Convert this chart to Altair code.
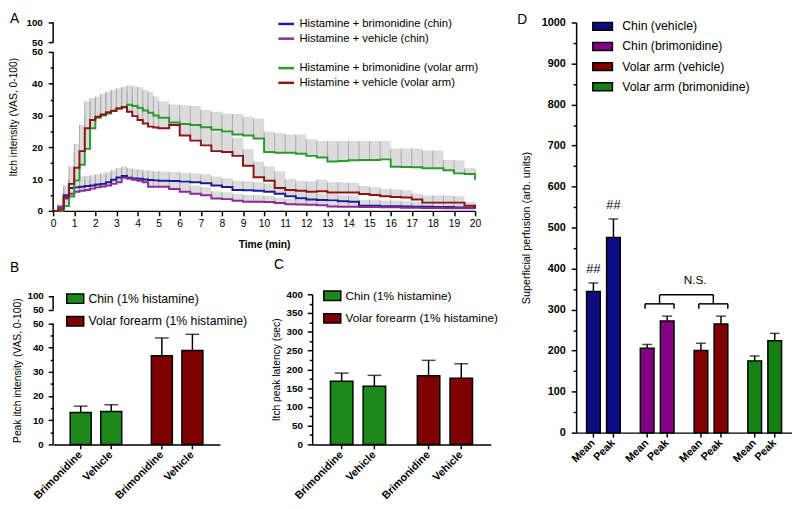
import altair as alt
import pandas as pd

FONT = "Liberation Sans"

# ---------------- Panel A data (time course) ----------------
times = [0, 0.25, 0.5, 0.75, 1.0, 1.25, 1.5, 1.75, 2.0, 2.25, 2.5, 2.75, 3.0, 3.25, 3.5, 3.75, 4.0, 4.25, 4.5, 4.75, 5.0,
         5.5, 6.0, 6.5, 7.0, 7.5, 8.0, 8.5, 9.0, 9.5, 10.0, 10.5, 11.0, 11.5, 12.0, 12.5, 13.0, 13.5, 14.0, 14.5, 15.0,
         15.5, 16.0, 16.5, 17.0, 17.5, 18.0, 18.5, 19.0, 19.5, 20.0]

chin_brim_mean = [0, 1.3, 4.9, 7.2, 7.4, 7.6, 7.8, 8.0, 8.3, 8.5, 9.0, 9.8, 10.5, 11.0, 10.4, 10.2, 10.1, 9.9, 9.7, 9.6, 9.5,
                  9.4, 9.2, 9.0, 8.7, 8.0, 7.5, 6.6, 6.5, 6.3, 6.0, 5.4, 4.6, 4.0, 3.6, 3.4, 3.3, 3.0, 2.9, 1.6, 1.6,
                  1.5, 1.5, 1.4, 1.3, 1.3, 1.2, 1.2, 1.1, 1.0, 0.8]
chin_brim_upper = [0, 2.0, 7.0, 10.0, 10.5, 10.8, 11.0, 11.2, 11.5, 11.8, 12.2, 12.8, 13.5, 14.0, 13.5, 13.2, 13.0, 12.8, 12.6, 12.5, 12.4,
                   12.2, 12.0, 11.8, 11.5, 10.8, 10.3, 9.5, 9.3, 9.0, 8.6, 8.0, 7.0, 6.3, 5.8, 5.5, 5.3, 5.0, 4.8, 3.5, 3.5,
                   3.3, 3.3, 3.0, 2.8, 2.7, 2.6, 2.5, 2.4, 2.2, 2.0]
chin_veh_mean = [0, 1.2, 3.9, 5.4, 6.0, 6.3, 6.6, 7.0, 7.4, 7.7, 8.0, 8.5, 9.0, 10.4, 10.1, 9.8, 9.5, 9.0, 7.6, 7.6, 7.6,
                 6.9, 6.0, 5.4, 4.9, 3.9, 3.7, 3.2, 2.9, 2.9, 2.8, 2.5, 2.1, 2.0, 1.9, 1.8, 1.4, 1.3, 1.3, 1.2, 1.2,
                 1.1, 1.1, 1.0, 1.0, 0.9, 0.9, 0.8, 0.8, 0.8, 0.7]
chin_veh_upper = [0, 2.0, 6.5, 8.5, 9.2, 9.5, 9.8, 10.2, 10.6, 11.0, 11.3, 11.8, 12.3, 13.5, 13.2, 12.9, 12.6, 12.0, 10.5, 10.4, 10.3,
                  9.6, 8.8, 8.0, 7.4, 6.2, 5.9, 5.3, 5.0, 4.9, 4.7, 4.2, 3.7, 3.5, 3.4, 3.2, 2.7, 2.6, 2.5, 2.3, 2.3,
                  2.1, 2.1, 2.0, 1.9, 1.8, 1.7, 1.6, 1.6, 1.5, 1.3]
arm_brim_mean = [0, 0, 1.5, 4.5, 9.6, 14.5, 19.5, 26.0, 29.3, 30.0, 30.6, 31.4, 32.2, 32.5, 33.4, 33.0, 32.4, 31.6, 30.9, 30.0, 29.3,
                 27.8, 27.3, 27.0, 26.3, 25.5, 25.0, 24.0, 23.7, 22.8, 18.5, 18.3, 18.3, 18.0, 17.3, 16.8, 15.5, 15.7, 15.9, 16.0, 16.0,
                 16.2, 13.9, 13.8, 13.7, 13.4, 13.4, 12.8, 11.8, 11.6, 9.8]
arm_brim_upper = [0, 0.5, 4.0, 10.0, 18.0, 24.0, 30.0, 34.0, 35.5, 36.5, 37.4, 38.0, 38.5, 39.0, 39.4, 39.2, 38.9, 38.0, 37.4, 36.0, 34.5,
                  33.2, 33.2, 33.0, 31.7, 31.2, 30.6, 30.5, 29.6, 29.0, 25.0, 24.5, 24.0, 24.0, 22.5, 22.0, 22.0, 22.0, 22.0, 22.0, 22.0,
                  22.0, 19.6, 19.6, 19.6, 19.0, 19.0, 16.0, 15.9, 13.4, 13.0]
arm_veh_mean = [0, 0.5, 4.3, 8.5, 13.6, 18.8, 26.0, 28.6, 29.6, 30.3, 31.0, 31.5, 32.2, 32.7, 31.2, 29.8, 28.6, 27.5, 26.5, 26.2, 26.0,
                27.0, 23.7, 22.1, 20.6, 18.8, 18.5, 17.3, 14.2, 10.6, 9.5, 7.2, 6.6, 6.3, 6.0, 6.2, 5.8, 5.8, 5.8, 5.3, 5.0,
                4.6, 4.4, 4.2, 3.6, 2.6, 2.6, 2.6, 2.6, 1.6, 0.8]
arm_veh_upper = [0, 1.0, 8.0, 14.0, 21.0, 27.0, 34.5, 35.5, 36.0, 36.8, 37.4, 38.0, 38.5, 38.8, 37.5, 36.0, 35.0, 34.0, 33.0, 32.5, 32.0,
                 33.5, 29.5, 28.0, 26.5, 25.0, 24.5, 23.0, 19.5, 15.5, 14.0, 12.5, 10.0, 9.5, 9.3, 9.8, 9.0, 9.0, 8.8, 7.8, 7.5,
                 7.0, 6.8, 6.5, 5.5, 4.8, 4.8, 4.8, 4.6, 2.8, 2.2]

chin_names = ["Histamine + brimonidine (chin)", "Histamine + vehicle (chin)"]
arm_names = ["Histamine + brimonidine (volar arm)", "Histamine + vehicle (volar arm)"]

# ---------------- Panel B / C data ----------------
bc_sites = ["Chin (1% histamine)", "Chin (1% histamine)", "Volar forearm (1% histamine)", "Volar forearm (1% histamine)"]
bc_treat = ["Brimonidine", "Vehicle", "Brimonidine", "Vehicle"]
peak_itch = [13.2, 13.6, 36.6, 38.8]
peak_itch_upper = [15.8, 16.4, 44.0, 45.5]
latency = [168, 155, 183, 176]
latency_upper = [190, 184, 224, 215]

# ---------------- Panel D data ----------------
d_groups = ["Chin (vehicle)", "Chin (brimonidine)", "Volar arm (vehicle)", "Volar arm (brimonidine)"]
d_stats = ["Mean", "Peak"]
d_mean = [344, 206, 200, 175]
d_mean_upper = [365, 215, 218, 187]
d_peak = [476, 272, 265, 224]
d_peak_upper = [521, 284, 284, 242]
d_mean_note = ["##", "", "", ""]
d_peak_note = ["##", "", "", ""]
ns_groups = ["Chin (brimonidine)", "Volar arm (vehicle)"]
ns_levels = {"end": 302, "mid": 314, "top": 336, "text": 371}

# colours
BLUE, PURPLE, GREEN_L, RED_L = "#1c1c96", "#8c2a98", "#2a9a2a", "#8c1414"
GREEN_B, RED_B = "#1b8a1b", "#7f0000"
D_COLORS = ["#0d0d82", "#840084", "#820000", "#168016"]

# ---------------- frames ----------------
rowsA = []
for name, site, ms, us in [(chin_names[0], "chin", chin_brim_mean, chin_brim_upper),
                           (chin_names[1], "chin", chin_veh_mean, chin_veh_upper),
                           (arm_names[0], "arm", arm_brim_mean, arm_brim_upper),
                           (arm_names[1], "arm", arm_veh_mean, arm_veh_upper)]:
    for t, m, u in zip(times, ms, us):
        rowsA.append({"t": t, "series": name, "site": site, "mean": m, "upper": u})
dfA = pd.DataFrame(rowsA)

dfB = pd.DataFrame({"site": bc_sites, "treat": bc_treat, "value": peak_itch, "upper": peak_itch_upper})
dfC = pd.DataFrame({"site": bc_sites, "treat": bc_treat, "value": latency, "upper": latency_upper})

rowsD = []
for g, m, mu, p, pu, mn, pn in zip(d_groups, d_mean, d_mean_upper, d_peak, d_peak_upper, d_mean_note, d_peak_note):
    rowsD.append({"group": g, "stat": "Mean", "value": m, "upper": mu, "note": mn})
    rowsD.append({"group": g, "stat": "Peak", "value": p, "upper": pu, "note": pn})
dfD = pd.DataFrame(rowsD)

broken = pd.DataFrame({"lo": [0, 51], "hi": [50, 100]})

# ---------------- helpers ----------------
def minor_tick(test):
    return {"condition": {"test": test, "value": 3}, "value": 5}

RECT_PATH = "M-1,-0.55L1,-0.55L1,0.55L-1,0.55Z"
RECT_PATH_D = "M-1,-0.4L1,-0.4L1,0.4L-1,0.4Z"
INDEP = dict(x="independent", y="independent", color="independent", xOffset="independent")

# ================= Panel A =================
A_W, A_H = 430, 192
xA = alt.Scale(domain=[0, 20], nice=False, zero=False)
yA = alt.Scale(domain=[0, 50, 51, 100], range=[A_H, A_H - 162, A_H - 172, 0], nice=False, zero=False)
axis_xA = alt.Axis(values=list(range(21)), title="Time (min)", labelFontSize=10.5, labelFontWeight="normal",
                   titleFontSize=10.5, titleFontWeight="bold", tickSize=5, labelPadding=3, titlePadding=11, labelFlush=False)
axis_yA = alt.Axis(values=[0, 5, 10, 15, 20, 25, 30, 35, 40, 45, 50, 51, 100],
                   labelExpr="datum.value == 51 ? '50' : (datum.value % 10 == 0 ? '' + datum.value : '')",
                   tickSize=minor_tick("datum.value % 10 != 0 && datum.value != 51"),
                   domain=False, title="Itch intensity (VAS, 0-100)", labelFontSize=10, labelFontWeight="bold",
                   titleFontSize=10.5, titleFontWeight="normal", labelPadding=6, titlePadding=8)

baseA = alt.Chart(dfA)
encA = dict(x=alt.X("t:Q", scale=xA, axis=axis_xA))
errA_area = baseA.mark_area(interpolate="step-after", color="#dcdcdc").encode(
    **encA, y=alt.Y("mean:Q", scale=yA, axis=axis_yA), y2="upper:Q", detail="series:N")
errA_rule = baseA.mark_rule(color="#ababab", strokeWidth=1).encode(
    **encA, y=alt.Y("mean:Q", scale=yA, axis=axis_yA), y2="upper:Q")

def legA(ly):
    return alt.Legend(orient="none", legendX=228, legendY=ly, title=None, symbolType="stroke", symbolSize=256,
                      symbolStrokeWidth=2.5, labelFontSize=11.5, labelFont=FONT, labelColor="black",
                      rowPadding=-3, labelOffset=4, padding=0, labelLimit=400)

lines_chin = alt.Chart(dfA[dfA.site == "chin"]).mark_line(interpolate="step-after", strokeWidth=2).encode(
    **encA, y=alt.Y("mean:Q", scale=yA, axis=axis_yA),
    color=alt.Color("series:N", scale=alt.Scale(domain=chin_names, range=[BLUE, PURPLE]), legend=legA(-8)))
lines_arm = alt.Chart(dfA[dfA.site == "arm"]).mark_line(interpolate="step-after", strokeWidth=2).encode(
    **encA, y=alt.Y("mean:Q", scale=yA, axis=axis_yA),
    color=alt.Color("series:N", scale=alt.Scale(domain=arm_names, range=[GREEN_L, RED_L]), legend=legA(37)))
yline_A = alt.Chart(broken).mark_rule(color="black", strokeWidth=1.5).encode(
    x=alt.value(0), y=alt.Y("lo:Q", scale=yA, axis=axis_yA), y2="hi:Q")

panelA = alt.layer(errA_area, errA_rule, lines_chin, lines_arm, yline_A).resolve_scale(color="independent").properties(
    width=A_W, height=A_H,
    title=alt.TitleParams("A", anchor="start", frame="group", dx=-44, dy=16, fontSize=14, fontWeight="normal", font=FONT))

# ================= Panels B and C (grouped bars) =================
BC_H = 153
site_order = ["Chin (1% histamine)", "Volar forearm (1% histamine)"]
treat_order = ["Brimonidine", "Vehicle"]
axis_band = alt.Axis(labels=False, ticks=False, title=None, domain=True)


def bar_panel(df, width, yscale, yaxis, letter, letter_dx, leg_x, leg_y, broken_axis, legend_font):
    xs = alt.Scale(domain=site_order, paddingInner=0.365, paddingOuter=0.21)
    xo = alt.Scale(domain=treat_order, paddingInner=0.3125, paddingOuter=0)
    ex = dict(x=alt.X("site:N", scale=xs, axis=axis_band),
              xOffset=alt.XOffset("treat:N", scale=xo))
    base = alt.Chart(df)
    legend = alt.Legend(orient="none", legendX=leg_x, legendY=leg_y, title=None, symbolType=RECT_PATH,
                        symbolSize=300, symbolStrokeColor="black", symbolStrokeWidth=1.5,
                        labelFontSize=legend_font, labelFont=FONT, labelColor="black", rowPadding=5,
                        labelOffset=4, padding=0, labelLimit=400)
    bars = base.mark_bar(stroke="black", strokeWidth=1.5).encode(
        **ex, y=alt.Y("value:Q", scale=yscale, axis=yaxis),
        color=alt.Color("site:N", scale=alt.Scale(domain=site_order, range=[GREEN_B, RED_B]), legend=legend))
    err = base.mark_rule(color="black", strokeWidth=1.5).encode(
        **ex, y=alt.Y("value:Q", scale=yscale, axis=yaxis), y2="upper:Q")
    cap = base.mark_tick(color="black", thickness=1.5, size=14).encode(
        **ex, y=alt.Y("upper:Q", scale=yscale, axis=yaxis))
    ticks = base.mark_rule(color="black", strokeWidth=1.5).encode(
        **ex, y=alt.value(BC_H), y2=alt.value(BC_H + 5))
    labels = base.mark_text(angle=315, align="right", baseline="middle", fontWeight="bold", fontSize=11,
                            font=FONT, color="black").encode(**ex, y=alt.value(BC_H + 9), text="treat:N")
    layers = [bars, err, cap, ticks, labels]
    if broken_axis:
        layers.append(alt.Chart(broken).mark_rule(color="black", strokeWidth=1.5).encode(
            x=alt.value(0), y=alt.Y("lo:Q", scale=yscale, axis=yaxis), y2="hi:Q"))
    return alt.layer(*layers).properties(
        width=width, height=BC_H,
        title=alt.TitleParams(letter, anchor="start", frame="group", dx=letter_dx, dy=-11, fontSize=14,
                              fontWeight="normal", font=FONT))


yB = alt.Scale(domain=[0, 50, 51, 100], range=[BC_H, BC_H - 123.3, BC_H - 137.3, BC_H - 151.3], nice=False, zero=False)
axis_yB = alt.Axis(values=[0, 5, 10, 15, 20, 25, 30, 35, 40, 45, 50, 51, 100],
                   labelExpr="datum.value == 51 ? '50' : (datum.value % 10 == 0 ? '' + datum.value : '')",
                   tickSize=minor_tick("datum.value % 10 != 0 && datum.value != 51"),
                   domain=False, title="Peak itch intensity (VAS, 0-100)", labelFontSize=10, labelFontWeight="bold",
                   titleFontSize=10.5, titleFontWeight="normal", labelPadding=5, titlePadding=5)
panelB = bar_panel(dfB, 170, yB, axis_yB, "B", -44, 13, -5, True, 12.5)

yC = alt.Scale(domain=[0, 400], nice=False, zero=True)
axis_yC = alt.Axis(values=list(range(0, 401, 25)),
                   labelExpr="datum.value % 50 == 0 ? '' + datum.value : ''",
                   tickSize=minor_tick("datum.value % 50 != 0"),
                   title="Itch peak latency (sec)", labelFontSize=10, labelFontWeight="bold",
                   titleFontSize=10.5, titleFontWeight="normal", labelPadding=5, titlePadding=5)
panelC = bar_panel(dfC, 182, yC, axis_yC, "C", -39, 11, -8, False, 12)

# ================= Panel D =================
D_W, D_H = 220, 418
xD = alt.Scale(domain=d_groups, paddingInner=0.373, paddingOuter=0.194)
xDo = alt.Scale(domain=d_stats, paddingInner=0.317, paddingOuter=0)
yD = alt.Scale(domain=[0, 1000], nice=False, zero=True)
axis_yD = alt.Axis(values=list(range(0, 1001, 50)),
                   labelExpr="datum.value % 100 == 0 ? '' + datum.value : ''",
                   tickSize=minor_tick("datum.value % 100 != 0"),
                   title="Superficial perfusion (arb. units)", labelFontSize=11, labelFontWeight="bold",
                   titleFontSize=11, titleFontWeight="normal", labelPadding=6, titlePadding=10)
exD = dict(x=alt.X("group:N", scale=xD, axis=axis_band),
           xOffset=alt.XOffset("stat:N", scale=xDo))
baseD = alt.Chart(dfD)
legD = alt.Legend(orient="none", legendX=16, legendY=-7, title=None, symbolType=RECT_PATH_D, symbolSize=400,
                  symbolStrokeColor="black", symbolStrokeWidth=1.5, labelFontSize=12.5, labelFont=FONT,
                  labelColor="black", rowPadding=2.5, labelOffset=9, padding=0, labelLimit=400)
barsD = baseD.mark_bar(stroke="black", strokeWidth=1.5).encode(
    **exD, y=alt.Y("value:Q", scale=yD, axis=axis_yD),
    color=alt.Color("group:N", scale=alt.Scale(domain=d_groups, range=D_COLORS), legend=legD))
errD = baseD.mark_rule(color="black", strokeWidth=1.5).encode(**exD, y=alt.Y("value:Q", scale=yD, axis=axis_yD), y2="upper:Q")
capD = baseD.mark_tick(color="black", thickness=1.5, size=10).encode(**exD, y=alt.Y("upper:Q", scale=yD, axis=axis_yD))
noteD = baseD.transform_filter("datum.note != ''").mark_text(fontSize=13, font=FONT, color="black", dy=-14).encode(
    **exD, y=alt.Y("upper:Q", scale=yD, axis=axis_yD), text="note:N")
ticksD = baseD.mark_rule(color="black", strokeWidth=1.5).encode(**exD, y=alt.value(D_H), y2=alt.value(D_H + 5))
labD = baseD.mark_text(angle=315, align="right", baseline="middle", fontWeight="bold", fontSize=11, font=FONT,
                       color="black").encode(**exD, y=alt.value(D_H + 9), text="stat:N")

ns_df = pd.DataFrame({"group": ns_groups, "end": [ns_levels["end"]] * 2, "mid": [ns_levels["mid"]] * 2,
                      "top": [ns_levels["top"]] * 2})
ns_top_df = pd.DataFrame({"g1": [ns_groups[0]], "g2": [ns_groups[1]], "top": [ns_levels["top"]],
                          "text": [ns_levels["text"]], "label": ["N.S."]})


def ns_rule(bp1, bp2=None, y1="end", y2="mid"):
    enc = dict(x=alt.X("group:N", scale=xD, axis=axis_band, bandPosition=bp1),
               y=alt.Y(f"{y1}:Q", scale=yD, axis=axis_yD))
    if bp2 is not None:
        enc["x2"] = alt.X2("group:N", bandPosition=bp2)
    else:
        enc["y2"] = alt.Y2(f"{y2}:Q")
    return alt.Chart(ns_df).mark_rule(color="black", strokeWidth=1.5).encode(**enc)


ns_h = ns_rule(0.14, 1.0, y1="mid")
ns_l = ns_rule(0.14, None, "end", "mid")
ns_r = ns_rule(1.0, None, "end", "mid")
ns_v = ns_rule(0.57, None, "mid", "top")
ns_top = alt.Chart(ns_top_df).mark_rule(color="black", strokeWidth=1.5).encode(
    x=alt.X("g1:N", scale=xD, axis=axis_band, bandPosition=0.57),
    x2=alt.X2("g2:N", bandPosition=0.57), y=alt.Y("top:Q", scale=yD, axis=axis_yD))
ns_txt = alt.Chart(ns_top_df).mark_text(fontSize=12, font=FONT, color="black", dx=1).encode(
    x=alt.X("g2:N", scale=xD, axis=axis_band, bandPosition=0),
    y=alt.Y("text:Q", scale=yD, axis=axis_yD), text="label:N")

panelD = alt.layer(barsD, errD, capD, noteD, ticksD, labD, ns_h, ns_l, ns_r, ns_v, ns_top, ns_txt).properties(
    width=D_W, height=D_H,
    title=alt.TitleParams("D", anchor="start", frame="group", dx=-60, dy=16, fontSize=14, fontWeight="normal", font=FONT))

# ================= layout =================
bottom_row = alt.hconcat(panelB, panelC, spacing=94, bounds="flush").resolve_scale(**INDEP)
left_col = alt.vconcat(panelA, bottom_row, spacing=85, bounds="flush").resolve_scale(**INDEP)
chart = alt.hconcat(left_col, panelD, spacing=19).resolve_scale(**INDEP).properties(
    padding={"left": 0, "top": 0, "right": 0, "bottom": 0}
).configure(font=FONT).configure_view(stroke=None).configure_axis(
    domainColor="black", domainWidth=1.5, tickColor="black", tickWidth=1.5, labelColor="black",
    titleColor="black", grid=False, labelFont=FONT, titleFont=FONT
).configure_title(color="black")

chart.save("out.html", embed_options={"renderer": "svg", "actions": False})
